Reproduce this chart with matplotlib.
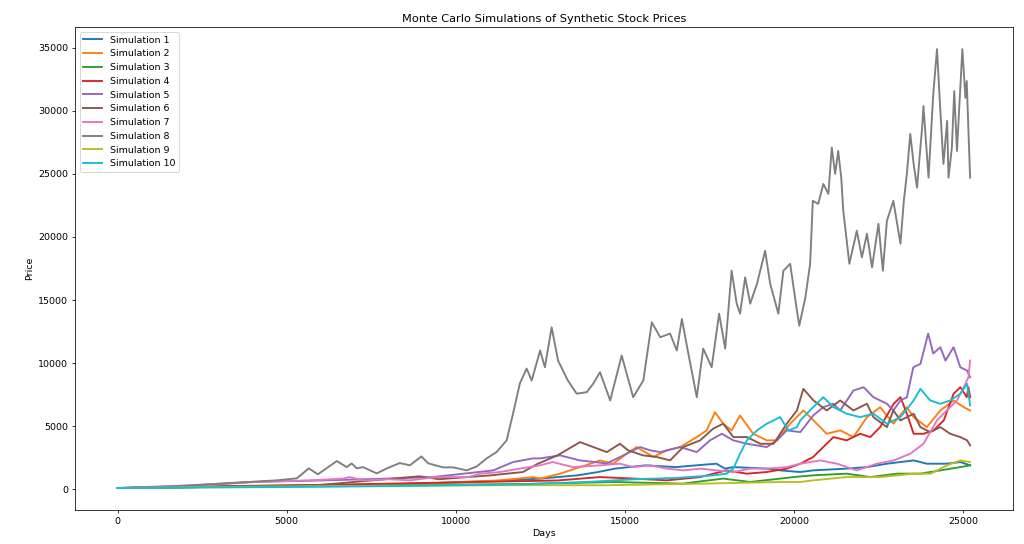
import matplotlib
matplotlib.use("Agg")
import matplotlib.pyplot as plt

# ---- data (day, price) ----
sim1_days = [0, 2000, 4000, 6000, 8000, 10000, 11600, 12500, 13600, 14200, 14700, 15600, 16500, 17100, 17700, 17950,
             18200, 19190, 19590, 20180, 20560, 21550, 22150, 22740, 23530, 23920, 24510, 24910, 25199]
sim1_vals = [100, 160, 230, 300, 380, 550, 710, 850, 1110, 1370, 1640, 1900, 1760, 1900, 2030, 1640,
             1760, 1640, 1500, 1370, 1500, 1640, 1760, 2030, 2290, 2030, 2030, 2160, 1900]

sim2_days = [0, 3000, 6000, 9000, 11300, 12280, 12490, 13080, 13670, 14260, 14650, 15050, 15340, 15840, 16230, 16630,
             17120, 17410, 17660, 17900, 18150, 18400, 18790, 19190, 19490, 19880, 20270, 20570, 20960, 21360, 21750,
             22150, 22540, 22930, 23330, 23530, 23920, 24320, 24710, 25010, 25199]
sim2_vals = [100, 200, 300, 450, 710, 970, 850, 1240, 1760, 2290, 2030, 2820, 3350, 2560, 3090, 3350,
             4140, 4670, 6110, 5200, 4670, 5850, 4400, 3880, 3880, 5200, 6250, 5460, 4400, 4670, 4140,
             5720, 6510, 5200, 6510, 5720, 4930, 6250, 7040, 6510, 6250]

sim3_days = [0, 3000, 6000, 9000, 12000, 14700, 16700, 17900, 18700, 19590, 19980, 20560, 21550, 22250, 23040, 23730,
             24320, 24910, 25199]
sim3_vals = [100, 200, 280, 350, 420, 580, 450, 850, 580, 850, 970, 1110, 1240, 970, 1240, 1240,
             1500, 1760, 1900]

sim4_days = [0, 3000, 6000, 9000, 11000, 13000, 14260, 15240, 16240, 17220, 18000, 18600, 19190, 19780, 20180, 20560,
             20860, 21160, 21550, 21950, 22250, 22540, 22940, 23140, 23330, 23530, 23820, 24120, 24420, 24710, 24910,
             25100, 25150, 25199]
sim4_vals = [100, 200, 350, 500, 600, 700, 970, 850, 710, 970, 1500, 1240, 1370, 1640, 2030, 2560,
             3350, 4140, 3880, 4400, 4140, 4930, 6780, 7300, 5990, 4400, 4400, 4670, 5460, 7570, 8090,
             7300, 8090, 7300]

sim5_days = [0, 2000, 3900, 6000, 8000, 9320, 11100, 11690, 12280, 12490, 13080, 13670, 14460, 14850, 15440, 15740,
             16040, 16630, 17120, 17510, 17860, 18200, 18600, 19190, 19490, 19780, 20180, 20560, 20860, 21150, 21360,
             21750, 22050, 22340, 22740, 22930, 23140, 23330, 23520, 23730, 23960, 24110, 24320, 24470, 24710, 24910,
             25110, 25199]
sim5_vals = [100, 300, 580, 700, 850, 970, 1500, 2160, 2450, 2450, 2690, 2290, 2050, 2560, 3350, 3090,
             2950, 3350, 2950, 3880, 4400, 3880, 3610, 3350, 3880, 4670, 4530, 5850, 6510, 6780, 6250,
             7830, 8090, 7300, 6780, 6250, 7040, 7300, 9670, 9940, 12340, 10760, 11260, 10200, 11260, 9670,
             9410, 8880]

sim6_days = [0, 3000, 6000, 8340, 8930, 9500, 11000, 11980, 12400, 13000, 13670, 14060, 14460, 14850, 15090, 15530,
             15940, 16330, 16720, 17220, 17600, 17900, 18200, 18600, 19000, 19390, 19780, 20080, 20270, 20570, 20960,
             21360, 21750, 22150, 22340, 22740, 22930, 23140, 23530, 23730, 24020, 24320, 24610, 24910, 25110, 25199]
sim6_vals = [100, 250, 350, 900, 1030, 800, 1100, 1370, 2000, 2690, 3740, 3350, 2950, 3610, 3090, 2690,
             2560, 2290, 3350, 3880, 4800, 5200, 4140, 4140, 3610, 3610, 5200, 6250, 7960, 7040, 6250,
             7040, 6250, 6780, 5720, 4930, 6250, 5460, 5990, 4930, 4530, 4930, 4400, 4140, 3880, 3480]

sim7_days = [0, 2000, 4100, 5700, 6670, 6860, 7250, 8000, 8640, 9420, 10380, 10710, 11300, 11890, 12490, 12860,
             13460, 14260, 14850, 15240, 15740, 16240, 16720, 17220, 17710, 18200, 18700, 19190, 19780, 20180, 20770,
             21260, 21850, 22440, 22940, 23430, 23820, 24220, 24510, 24810, 25010, 25150, 25199]
sim7_vals = [100, 250, 580, 710, 850, 970, 710, 800, 710, 970, 970, 1240, 1370, 1640, 1900, 2160,
             1760, 1900, 2030, 1760, 1900, 1640, 1500, 1640, 1500, 1370, 1640, 1640, 1760, 2030, 2290,
             2030, 1500, 2030, 2290, 2820, 3610, 5460, 6250, 7040, 8090, 8880, 10200]

sim8_days = [0, 1500, 3220, 4000, 4700, 5300, 5650, 5920, 6480, 6770, 6920, 7070, 7250, 7660, 7960, 8340, 8640, 8980,
             9180, 9620, 9920, 10320, 10620, 10910, 11200, 11500, 11690, 11890, 12090, 12240, 12490, 12630, 12830,
             13020, 13310, 13570, 13870, 14060, 14260, 14560, 14900, 15240, 15540, 15790, 16040, 16330, 16530, 16680,
             16870, 17120, 17310, 17560, 17780, 17960, 18150, 18300, 18400, 18550, 18700, 18900, 19140, 19290, 19530,
             19680, 19880, 20080, 20150, 20330, 20470, 20550, 20710, 20860, 21010, 21110, 21210, 21300, 21390, 21450,
             21630, 21850, 22000, 22150, 22300, 22490, 22620, 22740, 22930, 23140, 23240, 23330, 23430, 23530, 23630,
             23780, 23820, 23970, 24110, 24220, 24320, 24410, 24520, 24560, 24660, 24730, 24810, 24970, 25060, 25100,
             25150, 25199]
sim8_vals = [100, 180, 470, 600, 710, 870, 1660, 1190, 2240, 1760, 2050, 1660, 1760, 1260, 1660, 2080, 1900, 2610,
             2060, 1740, 1740, 1500, 1820, 2450, 2950, 3880, 6010, 8380, 9570, 8620, 11000, 9670, 12840,
             10200, 8620, 7580, 7700, 8380, 9280, 7040, 10600, 7300, 8620, 13230, 12050, 12340, 11000, 13500,
             10760, 7300, 11150, 9670, 13920, 11150, 17320, 14710, 13920, 16800, 14710, 16290, 18900, 16290, 13920,
             17320, 17870, 14160, 12970, 15210, 17870, 22860, 22620, 24200, 23410, 27080, 25000, 26810, 24700, 22070,
             17870, 20490, 18380, 20250, 17580, 21040, 17320, 21280, 22860, 19460, 22860, 25000, 28160, 25790, 23910,
             28660, 30370, 24700, 31320, 34880, 29980, 25790, 29190, 24700, 27080, 31560, 26810, 34880, 31030, 32350,
             28400, 24700]

sim9_days = [0, 3000, 6000, 9000, 12000, 14300, 17300, 19590, 20180, 20560, 21550, 22540, 23530, 24030, 24520, 24910,
             25199]
sim9_vals = [100, 180, 250, 300, 330, 320, 450, 580, 580, 710, 970, 970, 1240, 1240, 1900, 2290, 2160]

sim10_days = [0, 3000, 6000, 9000, 12000, 14000, 15300, 16500, 17600, 18000, 18200, 18400, 18600, 18900, 19190, 19580,
              19830, 20080, 20180, 20560, 20860, 21160, 21550, 21950, 22340, 22740, 23140, 23530, 23730, 24020, 24320,
              24610, 24910, 25110, 25199]
sim10_vals = [100, 150, 200, 280, 400, 600, 800, 900, 1100, 1240, 1640, 2820, 3880, 4670, 5200, 5720,
              4670, 4930, 5460, 6510, 7300, 6510, 5990, 5720, 5990, 5200, 5720, 7040, 7960, 7040, 6780,
              7040, 7570, 8360, 6650]

series_labels = [f"Simulation {i}" for i in range(1, 11)]
series_days = [sim1_days, sim2_days, sim3_days, sim4_days, sim5_days,
               sim6_days, sim7_days, sim8_days, sim9_days, sim10_days]
series_vals = [sim1_vals, sim2_vals, sim3_vals, sim4_vals, sim5_vals,
               sim6_vals, sim7_vals, sim8_vals, sim9_vals, sim10_vals]

title = "Monte Carlo Simulations of Synthetic Stock Prices"
x_label = "Days"
y_label = "Price"

# ---- drawing ----
dpi = 1024 / 15
fig = plt.figure(figsize=(15, 544 / dpi), dpi=dpi)
ax = fig.add_subplot(111)
fig.subplots_adjust(left=0.0732, right=0.989, top=0.950, bottom=0.0625)

for d, v, lab in zip(series_days, series_vals, series_labels):
    ax.plot(d, v, label=lab, linewidth=2.0)

ax.set_title(title)
ax.set_xlabel(x_label)
ax.set_ylabel(y_label)
ax.legend(loc="upper left")

fig.savefig("out.png", dpi=dpi)
